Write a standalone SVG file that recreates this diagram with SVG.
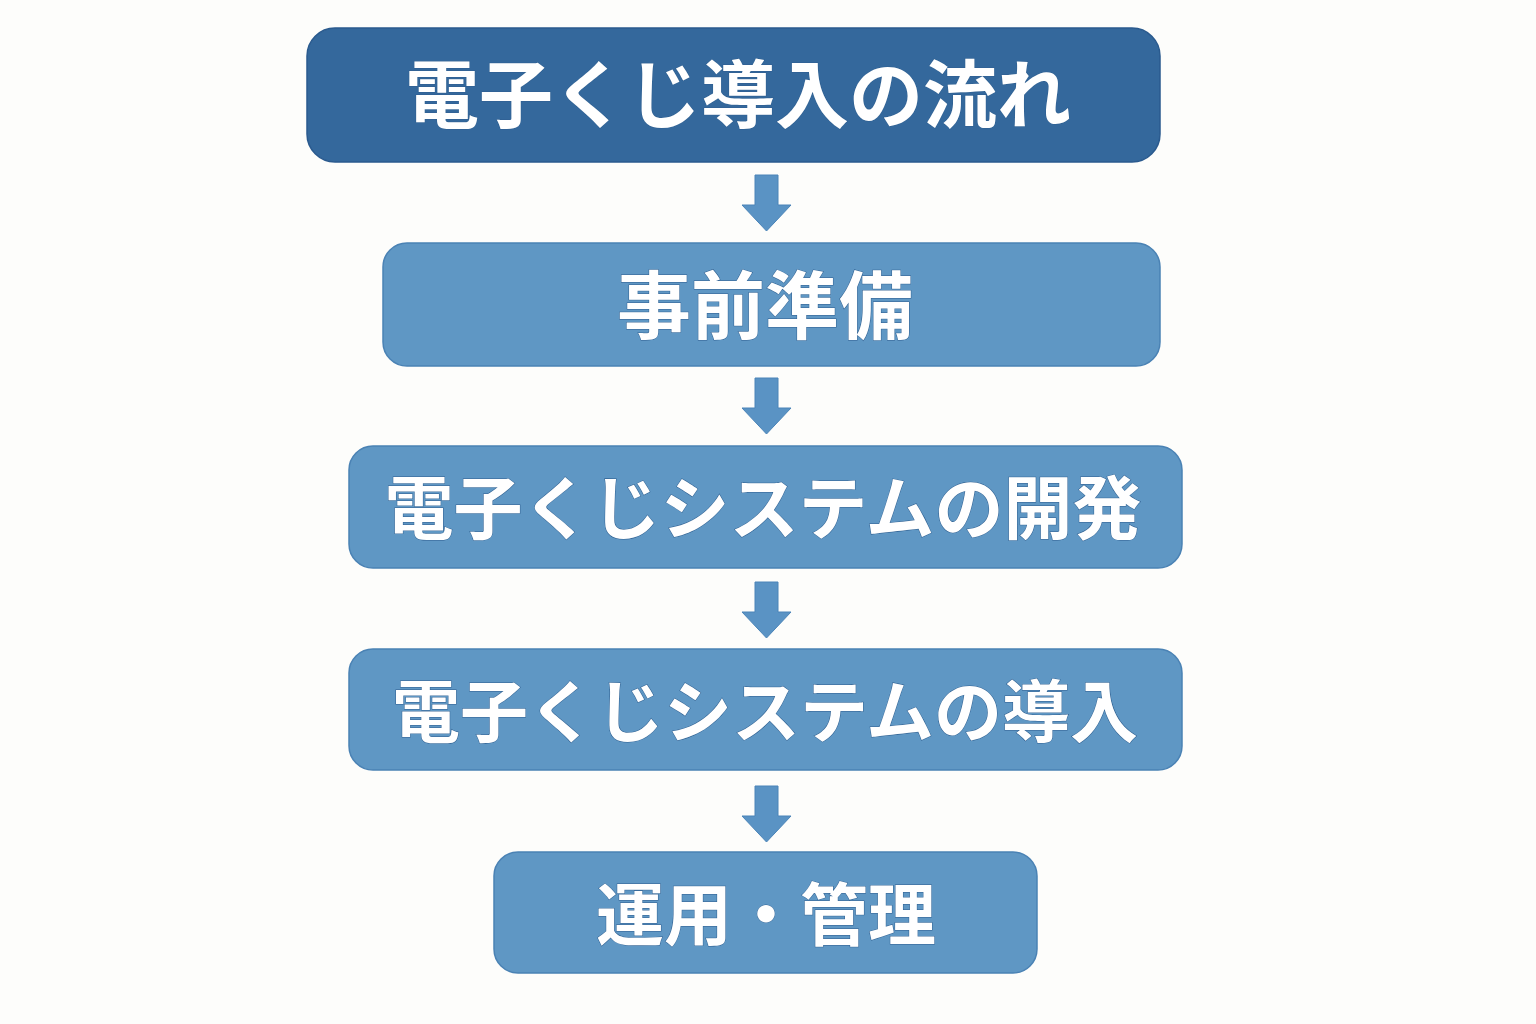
<svg xmlns="http://www.w3.org/2000/svg" width="1536" height="1024" viewBox="0 0 1536 1024">
<style>
.box{fill:#5f97c4;stroke:#4a82b4;stroke-width:1.5}
.title{fill:#34689c;stroke:#2a5a8e;stroke-width:1.5}
.t{font-family:"Noto Sans CJK JP","Noto Sans",sans-serif;font-weight:700;fill:#ffffff;text-anchor:middle;stroke:#2f5f90;stroke-width:1;paint-order:stroke}
.arr{fill:#5a93c4;stroke:#4a84b8;stroke-width:1}
</style>
<rect width="1536" height="1024" fill="#fdfdfb"/>
<g id="connectors">
<path class="arr" d="M755 175 H778 V205 H791 L766.5 231 L742 205 H755 Z"/>
<path class="arr" d="M755 378 H778 V408 H791 L766.5 434 L742 408 H755 Z"/>
<path class="arr" d="M755 582 H778 V612 H791 L766.5 638 L742 612 H755 Z"/>
<path class="arr" d="M755 786 H778 V816 H791 L766.5 842 L742 816 H755 Z"/>
</g>
<g id="node-title">
<rect class="title" x="307" y="28" width="853" height="134" rx="28"/>
<text class="t" x="738" y="122" font-size="74">電子くじ導入の流れ</text>
</g>
<g id="node-1">
<rect class="box" x="383" y="243" width="777" height="123" rx="24"/>
<text class="t" x="765" y="333" font-size="74">事前準備</text>
</g>
<g id="node-2">
<rect class="box" x="349" y="446" width="833" height="122" rx="24"/>
<text class="t" x="763" y="534" font-size="69">電子くじシステムの開発</text>
</g>
<g id="node-3">
<rect class="box" x="349" y="649" width="833" height="121" rx="24"/>
<text class="t" x="765" y="737" font-size="68">電子くじシステムの導入</text>
</g>
<g id="node-4">
<rect class="box" x="494" y="852" width="543" height="121" rx="24"/>
<text class="t" x="766" y="940" font-size="68">運用・管理</text>
</g>
</svg>
